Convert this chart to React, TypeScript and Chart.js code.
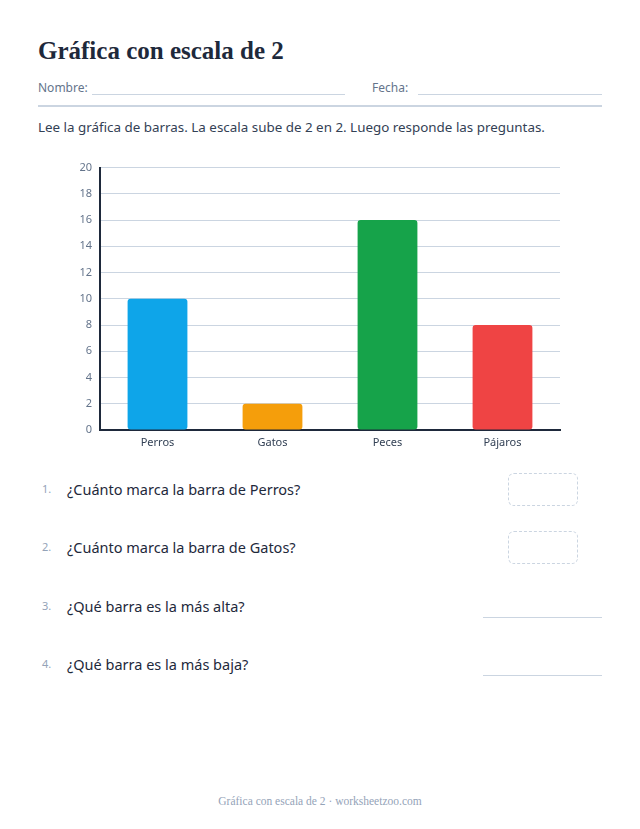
import React, { useEffect, useRef } from "react";
import { Chart, registerables } from "chart.js";

Chart.register(...registerables);

const categories = ["Perros", "Gatos", "Peces", "Pájaros"];
const values = [10, 2, 16, 8];
const barColors = ["#0ea5e9", "#f59e0b", "#16a34a", "#ef4444"];
const yTicks = [0, 2, 4, 6, 8, 10, 12, 14, 16, 18, 20];
const questions = [
  "¿Cuánto marca la barra de Perros?",
  "¿Cuánto marca la barra de Gatos?",
  "¿Qué barra es la más alta?",
  "¿Qué barra es la más baja?",
];
const answerKinds = ["box", "box", "line", "line"];

const SANS = "'Noto Sans', 'Open Sans', sans-serif";

function BarChart() {
  const ref = useRef<HTMLCanvasElement | null>(null);
  useEffect(() => {
    if (!ref.current) return;
    const chart = new Chart(ref.current, {
      type: "bar",
      data: {
        labels: categories,
        datasets: [
          {
            data: values,
            backgroundColor: barColors,
            borderRadius: 3,
            borderSkipped: false,
            barPercentage: 0.52,
            categoryPercentage: 1,
          },
        ],
      },
      options: {
        responsive: false,
        animation: false,
        devicePixelRatio: 1,
        layout: { padding: { top: 10, right: 20, left: 0, bottom: 0 } },
        plugins: { legend: { display: false }, tooltip: { enabled: false } },
        scales: {
          x: {
            grid: { display: false, drawTicks: false },
            border: { color: "#1e293b", width: 2 },
            ticks: {
              color: "#334155",
              font: { family: SANS, size: 11 },
              padding: 6,
            },
            afterFit: (s: any) => {
              s.height = 26;
            },
          },
          y: {
            min: 0,
            max: 20,
            afterBuildTicks: (s: any) => {
              s.ticks = yTicks.map((v) => ({ value: v }));
            },
            grid: { color: "#cbd5e1", drawTicks: false, lineWidth: 1 },
            border: { color: "#1e293b", width: 2 },
            ticks: {
              color: "#64748b",
              font: { family: SANS, size: 11 },
              padding: 8,
            },
            afterFit: (s: any) => {
              s.width = 40;
            },
          },
        },
      },
    });
    return () => chart.destroy();
  }, []);
  return <canvas ref={ref} width={520} height={303} style={{ position: "absolute", left: 60, top: 153 }} />;
}

export default function App() {
  const textColor = "#1e293b";
  return (
    <div style={{ position: "absolute", left: 0, top: 0, width: 640, height: 829, background: "#fff", fontFamily: SANS }}>
      <div
        style={{
          position: "absolute",
          left: 38,
          top: 35,
          fontFamily: "'Liberation Serif', 'DejaVu Serif', serif",
          fontWeight: 700,
          fontSize: 25,
          color: textColor,
          whiteSpace: "nowrap",
          lineHeight: "32px",
        }}
      >
        Gráfica con escala de 2
      </div>
      <div style={{ position: "absolute", left: 38, top: 80, fontSize: 12, color: "#64748b", lineHeight: "16px" }}>Nombre:</div>
      <div style={{ position: "absolute", left: 92, top: 94, width: 253, height: 1, background: "#cbd5e1" }} />
      <div style={{ position: "absolute", left: 372, top: 80, fontSize: 12, color: "#64748b", lineHeight: "16px" }}>Fecha:</div>
      <div style={{ position: "absolute", left: 418, top: 94, width: 184, height: 1, background: "#cbd5e1" }} />
      <div style={{ position: "absolute", left: 38, top: 105, width: 564, height: 2, background: "#cbd5e1" }} />
      <div style={{ position: "absolute", left: 38, top: 118, fontSize: 13.4, color: "#334155", lineHeight: "18px", whiteSpace: "nowrap" }}>
        Lee la gráfica de barras. La escala sube de 2 en 2. Luego responde las preguntas.
      </div>
      <BarChart />
      {questions.map((q, i) => {
        const cy = 490 + i * 58.3;
        return (
          <React.Fragment key={i}>
            <div style={{ position: "absolute", left: 42, top: cy - 8, fontSize: 11, color: "#94a3b8", lineHeight: "14px" }}>{i + 1}.</div>
            <div style={{ position: "absolute", left: 67, top: cy - 11, fontSize: 14.5, color: textColor, lineHeight: "20px", whiteSpace: "nowrap" }}>{q}</div>
            {answerKinds[i] === "box" ? (
              <div
                style={{
                  position: "absolute",
                  left: 508,
                  top: cy - 17,
                  width: 68,
                  height: 31,
                  border: "1.5px dashed #cbd5e1",
                  borderRadius: 6,
                }}
              />
            ) : (
              <div style={{ position: "absolute", left: 483, top: cy + 10, width: 119, height: 1, background: "#cbd5e1" }} />
            )}
          </React.Fragment>
        );
      })}
      <div
        style={{
          position: "absolute",
          left: 0,
          width: 640,
          top: 794,
          textAlign: "center",
          fontFamily: "'Liberation Serif', serif",
          fontSize: 11.5,
          color: "#94a3b8",
          lineHeight: "14px",
        }}
      >
        Gráfica con escala de 2 · worksheetzoo.com
      </div>
    </div>
  );
}
